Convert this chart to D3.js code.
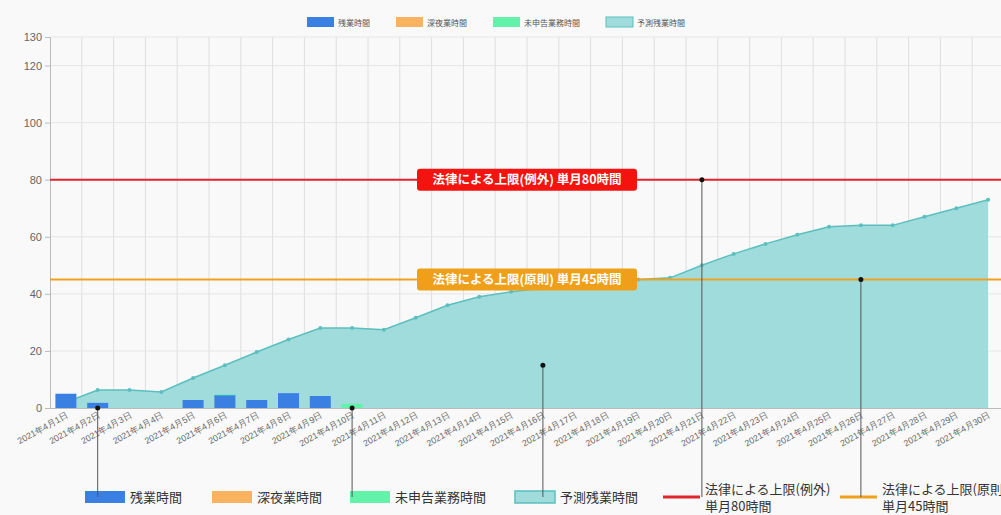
<!DOCTYPE html>
<html>
<head>
<meta charset="utf-8">
<script src="https://cdn.jsdelivr.net/npm/d3@7"></script>
<style>
  body { margin: 0; background: #f9f9f9; }
  svg { display: block; font-family: "Noto Sans CJK JP", "Noto Sans", sans-serif; }
</style>
</head>
<body>
<svg id="chart" width="1001" height="515"></svg>
<script>
// days of April 2021
var days = ['2021年4月1日','2021年4月2日','2021年4月3日','2021年4月4日','2021年4月5日','2021年4月6日',
  '2021年4月7日','2021年4月8日','2021年4月9日','2021年4月10日','2021年4月11日','2021年4月12日',
  '2021年4月13日','2021年4月14日','2021年4月15日','2021年4月16日','2021年4月17日','2021年4月18日',
  '2021年4月19日','2021年4月20日','2021年4月21日','2021年4月22日','2021年4月23日','2021年4月24日',
  '2021年4月25日','2021年4月26日','2021年4月27日','2021年4月28日','2021年4月29日','2021年4月30日'];

var overtime   = [5, 1.8, 0, 0, 2.8, 4.5, 2.8, 5.2, 4.2, 0, 0, 0, 0, 0, 0, 0, 0, 0, 0, 0, 0, 0, 0, 0, 0, 0, 0, 0, 0, 0];
var lateNight  = [0, 0, 0, 0, 0, 0, 0, 0, 0, 0, 0, 0, 0, 0, 0, 0, 0, 0, 0, 0, 0, 0, 0, 0, 0, 0, 0, 0, 0, 0];
var unreported = [0, 0, 0, 0, 0, 0.3, 0, 0, 0, 1.5, 0, 0, 0, 0, 0, 0, 0, 0, 0, 0, 0, 0, 0, 0, 0, 0, 0, 0, 0, 0];
var forecast   = [2, 6.3, 6.3, 5.6, 10.5, 15, 19.6, 24, 28, 28, 27.4, 31.6, 36, 39, 40.7, 42, 43, 44, 45, 45.6,
                  50, 54, 57.5, 60.7, 63.5, 64, 64, 67, 70, 73];

var yTicks = [0, 20, 40, 60, 80, 100, 120, 130];

var limitValues = [80, 45];
var limitLabels = ['法律による上限(例外) 単月80時間', '法律による上限(原則) 単月45時間'];
var limitLegend = [['法律による上限(例外)', '単月80時間'], ['法律による上限(原則)', '単月45時間']];

var seriesNames = ['残業時間', '深夜業時間', '未申告業務時間', '予測残業時間'];

// callout markers pointing to the bottom legend
var markerDays   = ['2021年4月2日', '2021年4月10日', '2021年4月16日', '2021年4月21日', '2021年4月26日'];
var markerValues = [0, 0, 15, 80, 45];

var barColors = ['#3a7fe2', '#f9b25e', '#63f2aa'];
var areaFill = '#a0dcdc', areaLine = '#5cbfbf';
var limitColors = ['#e0262c', '#f0a21c'];
var boxColors = ['#f5130f', '#f09f1a'];

var margin = {top: 37, left: 50, bottom: 107};
var W = 1001, H = 515;

var svg = d3.select('#chart');

var x = d3.scaleBand().domain(days).range([margin.left, 1004]).padding(0);
var y = d3.scaleLinear().domain([0, 130]).range([H - margin.bottom, margin.top]);
var cx = function(d) { return x(d) + x.bandwidth() / 2; };

// grid
svg.append('g').selectAll('line').data(days.slice(1)).enter().append('line')
  .attr('x1', function(d) { return x(d); }).attr('x2', function(d) { return x(d); })
  .attr('y1', y(130)).attr('y2', y(0))
  .attr('stroke', '#dedede').attr('stroke-width', 1);
svg.append('g').selectAll('line').data(yTicks.slice(1)).enter().append('line')
  .attr('x1', margin.left).attr('x2', W)
  .attr('y1', function(d) { return y(d); }).attr('y2', function(d) { return y(d); })
  .attr('stroke', '#e6e6e6').attr('stroke-width', 1);

// axes
var yAxis = svg.append('g').attr('transform', 'translate(' + margin.left + ',0)')
  .call(d3.axisLeft(y).tickValues(yTicks).tickSize(5).tickPadding(3));
yAxis.select('.domain').attr('stroke', '#bbb');
yAxis.selectAll('.tick line').attr('stroke', '#bbb');
yAxis.selectAll('.tick text').attr('fill', '#666').attr('font-size', 11);

var xAxis = svg.append('g').attr('transform', 'translate(0,' + y(0) + ')')
  .call(d3.axisBottom(x).tickSize(0).tickPadding(0));
xAxis.select('.domain').attr('stroke', '#bbb');
xAxis.selectAll('.tick text')
  .attr('fill', '#666').attr('font-size', 8.8)
  .attr('text-anchor', 'end')
  .attr('dy', 0)
  .attr('transform', 'translate(3,9) rotate(-29)');

// forecast area
var area = d3.area().x(function(d, i) { return cx(days[i]); }).y0(y(0)).y1(function(d) { return y(d); });
var line = d3.line().x(function(d, i) { return cx(days[i]); }).y(function(d) { return y(d); });
svg.append('path').datum(forecast).attr('d', area).attr('fill', areaFill);
svg.append('path').datum(forecast).attr('d', line).attr('fill', 'none').attr('stroke', areaLine).attr('stroke-width', 1.5);
svg.append('g').selectAll('circle').data(forecast).enter().append('circle')
  .attr('cx', function(d, i) { return cx(days[i]); }).attr('cy', function(d) { return y(d); })
  .attr('r', 2).attr('fill', areaLine);

// stacked bars
var rows = days.map(function(d, i) { return {day: d, a: overtime[i], b: lateNight[i], c: unreported[i]}; });
var stacked = d3.stack().keys(['a', 'b', 'c'])(rows);
var bw = x.bandwidth() * 0.66;
svg.append('g').selectAll('g').data(stacked).enter().append('g')
  .attr('fill', function(d, i) { return barColors[i]; })
  .selectAll('rect').data(function(d) { return d; }).enter().append('rect')
  .attr('x', function(d) { return cx(d.data.day) - bw / 2; })
  .attr('width', bw)
  .attr('y', function(d) { return y(d[1]); })
  .attr('height', function(d) { return y(d[0]) - y(d[1]); });

// limit lines with labels
limitValues.forEach(function(v, i) {
  svg.append('line').attr('x1', margin.left).attr('x2', W)
    .attr('y1', y(v)).attr('y2', y(v))
    .attr('stroke', limitColors[i]).attr('stroke-width', 2);
  var midX = (margin.left + 1004) / 2;
  var t = svg.append('text').attr('x', midX).attr('y', y(v)).attr('dy', '0.35em')
    .attr('text-anchor', 'middle').attr('fill', '#fff')
    .attr('font-size', 12.5).attr('font-weight', 'bold').text(limitLabels[i]);
  svg.insert('rect', function() { return t.node(); })
    .attr('x', midX - 110).attr('width', 220)
    .attr('y', y(v) - 11).attr('height', 22).attr('rx', 3)
    .attr('fill', boxColors[i]);
});

// top legend
var topLeg = svg.append('g').attr('font-size', 8).attr('fill', '#555');
var tx = 307;
seriesNames.forEach(function(name, i) {
  var col = i < 3 ? barColors[i] : areaFill;
  topLeg.append('rect').attr('x', tx).attr('y', 17).attr('width', 27).attr('height', 10)
    .attr('fill', col).attr('stroke', i === 3 ? areaLine : 'none');
  var t = topLeg.append('text').attr('x', tx + 31).attr('y', 25.5).text(name);
  tx += 31 + t.node().getComputedTextLength() + 26;
});

// bottom legend
var legY = 497;
var bottomLeg = svg.append('g').attr('font-size', 13).attr('fill', '#333');
var legX = [85, 212, 350, 515];
seriesNames.forEach(function(name, i) {
  var col = i < 3 ? barColors[i] : areaFill;
  bottomLeg.append('rect').attr('x', legX[i]).attr('y', legY - 6).attr('width', 40).attr('height', 12)
    .attr('fill', col).attr('stroke', i === 3 ? areaLine : 'none').attr('stroke-width', 1.5);
  bottomLeg.append('text').attr('x', legX[i] + 45).attr('y', legY + 5).text(name);
});
var lineLegX = [663, 840];
limitLegend.forEach(function(lbl, i) {
  bottomLeg.append('line').attr('x1', lineLegX[i]).attr('x2', lineLegX[i] + 37)
    .attr('y1', legY).attr('y2', legY)
    .attr('stroke', limitColors[i]).attr('stroke-width', 3);
  bottomLeg.append('text').attr('x', lineLegX[i] + 42).attr('y', legY - 3).text(lbl[0]);
  bottomLeg.append('text').attr('x', lineLegX[i] + 42).attr('y', legY + 14).text(lbl[1]);
});

// callout markers
var mk = svg.append('g');
markerDays.forEach(function(d, i) {
  var mx = cx(d);
  mk.append('line').attr('x1', mx).attr('x2', mx)
    .attr('y1', y(markerValues[i])).attr('y2', legY)
    .attr('stroke', '#555').attr('stroke-width', 1);
  mk.append('circle').attr('cx', mx).attr('cy', y(markerValues[i])).attr('r', 2.5).attr('fill', '#111');
});
</script>
</body>
</html>
